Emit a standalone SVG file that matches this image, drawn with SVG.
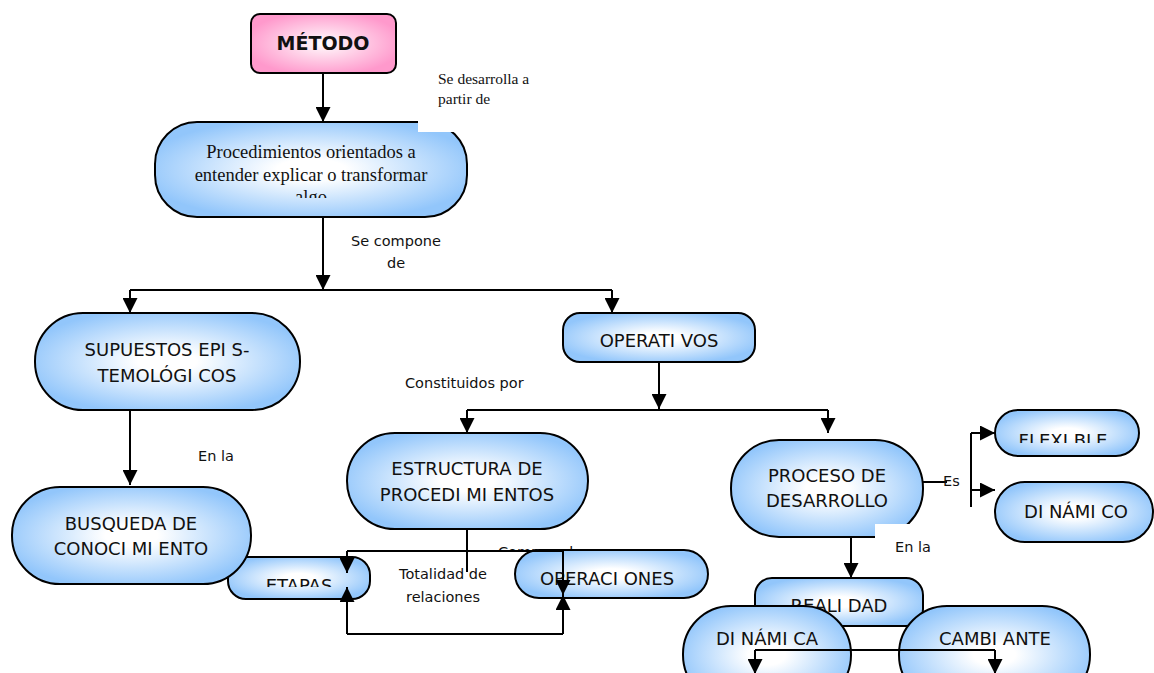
<svg xmlns="http://www.w3.org/2000/svg" width="1154" height="673" viewBox="0 0 1154 673">
<style>
.box{stroke:#000;stroke-width:2;fill:url(#gb)}
.pink{stroke:#000;stroke-width:2;fill:url(#gp)}
.t{font-family:"DejaVu Sans",sans-serif;font-size:18px;fill:#111;text-anchor:middle}
.s{font-family:"DejaVu Sans",sans-serif;font-size:14.5px;fill:#111}
.sr{font-family:"Liberation Serif",serif;fill:#111}
.c{fill:none;stroke:#000;stroke-width:2}
.a{fill:none;stroke:#000;stroke-width:2;marker-end:url(#ah)}
</style>
<defs>
<radialGradient id="gb" cx="50%" cy="50%" r="55%">
<stop offset="0" stop-color="#ffffff"/>
<stop offset="0.2" stop-color="#ffffff"/>
<stop offset="1" stop-color="#92c6fb"/>
</radialGradient>
<radialGradient id="gp" cx="50%" cy="50%" r="55%">
<stop offset="0" stop-color="#ffffff"/>
<stop offset="0.15" stop-color="#ffeef6"/>
<stop offset="1" stop-color="#ff99cc"/>
</radialGradient>
<marker id="ah" viewBox="0 0 10 10" refX="10" refY="5" markerWidth="15" markerHeight="15" markerUnits="userSpaceOnUse" orient="auto">
<path d="M0,0 L10,5 L0,10 z" fill="#000"/>
</marker>
<clipPath id="clAlgo"><rect x="150" y="120" width="320" height="78"/></clipPath>
<clipPath id="clEtapas"><rect x="220" y="550" width="160" height="37"/></clipPath>
<clipPath id="clFlex"><rect x="990" y="400" width="160" height="43"/></clipPath>
<clipPath id="clComp"><rect x="490" y="530" width="100" height="21"/></clipPath>
</defs>
<rect width="1154" height="673" fill="#fff"/>

<g id="label-comprende"><text class="s" x="498" y="557" clip-path="url(#clComp)">Comprende</text></g>

<g id="metodo">
<rect class="pink" x="251" y="14" width="145" height="59" rx="9"/>
<text x="323" y="50" text-anchor="middle" font-family="DejaVu Sans,sans-serif" font-weight="bold" font-size="19" fill="#111">MÉTODO</text>
</g>

<g id="procedimientos">
<rect class="box" x="155" y="122" width="312" height="95" rx="42"/>
<g class="sr" font-size="18.5" text-anchor="middle" clip-path="url(#clAlgo)">
<text x="311" y="158">Procedimientos orientados a</text>
<text x="311" y="181">entender explicar o transformar</text>
<text x="311" y="203">algo</text>
</g>
</g>

<g id="supuestos">
<rect class="box" x="35" y="313" width="265" height="97" rx="48"/>
<text class="t" x="167" y="356">SUPUESTOS EPI S-</text>
<text class="t" x="167" y="382">TEMOLÓGI COS</text>
</g>

<g id="operativos">
<rect class="box" x="563" y="313" width="192" height="49" rx="17"/>
<text class="t" x="659" y="347">OPERATI VOS</text>
</g>

<g id="etapas">
<rect class="box" x="228" y="557" width="142" height="42" rx="18"/>
<text class="t" x="299" y="592" clip-path="url(#clEtapas)">ETAPAS</text>
</g>

<g id="busqueda">
<rect class="box" x="12" y="487" width="239" height="97" rx="48"/>
<text class="t" x="131" y="530">BUSQUEDA DE</text>
<text class="t" x="131" y="555">CONOCI MI ENTO</text>
</g>

<g id="estructura">
<rect class="box" x="347" y="433" width="241" height="96" rx="48"/>
<text class="t" x="467" y="475">ESTRUCTURA DE</text>
<text class="t" x="467" y="501">PROCEDI MI ENTOS</text>
</g>

<g id="operaciones">
<rect class="box" x="515" y="550" width="193" height="48" rx="24"/>
<text class="t" x="607" y="585">OPERACI ONES</text>
</g>

<g id="proceso">
<rect class="box" x="731" y="440" width="192" height="97" rx="48"/>
<text class="t" x="827" y="482">PROCESO DE</text>
<text class="t" x="827" y="507">DESARROLLO</text>
</g>

<g id="flexible">
<rect class="box" x="995" y="410" width="144" height="46" rx="23"/>
<text class="t" x="1063" y="447" clip-path="url(#clFlex)">FLEXI BLE</text>
</g>

<g id="dinamico">
<rect class="box" x="995" y="482" width="158" height="60" rx="30"/>
<text class="t" x="1076" y="518">DI NÁMI CO</text>
</g>

<g id="realidad">
<rect class="box" x="755" y="578" width="168" height="48" rx="17"/>
<text class="t" x="839" y="612">REALI DAD</text>
</g>

<g id="dinamica">
<rect class="box" x="683" y="606" width="168" height="97" rx="48"/>
<text class="t" x="767" y="645">DI NÁMI CA</text>
</g>

<g id="cambiante">
<rect class="box" x="899" y="606" width="191" height="97" rx="48"/>
<text class="t" x="995" y="645">CAMBI ANTE</text>
</g>

<g id="overlays">
<rect x="418" y="120" width="50" height="12" fill="#fff"/>
<rect x="875" y="524" width="50" height="17" fill="#fff"/>
</g>

<g id="connectors">
<path class="a" d="M323,73 V122"/>
<path class="a" d="M323,217 V290"/>
<path class="c" d="M130,290 H612"/>
<path class="a" d="M130,290 V313"/>
<path class="a" d="M612,290 V313"/>
<path class="a" d="M130,410 V485"/>
<path class="a" d="M659,362 V409"/>
<path class="c" d="M467,410 H828"/>
<path class="a" d="M467,410 V433"/>
<path class="a" d="M828,410 V433"/>
<path class="c" d="M467,529 V572"/>
<path class="c" d="M347,551 H563"/>
<path class="a" d="M347,551 V573"/>
<path class="a" d="M563,551 V595"/>
<path class="c" d="M347,634 H563"/>
<path class="a" d="M347,634 V587"/>
<path class="a" d="M563,634 V595"/>
<path class="c" d="M923,482 H947"/>
<path class="c" d="M971,433 V507"/>
<path class="a" d="M971,433 H995"/>
<path class="a" d="M971,490 H995"/>
<path class="a" d="M851,537 V578"/>
<path class="c" d="M755,650 H995"/>
<path class="a" d="M755,650 V674"/>
<path class="a" d="M995,650 V674"/>
</g>

<g id="labels">
<text class="sr" font-size="15.5" x="438" y="84">Se desarrolla a</text>
<text class="sr" font-size="15.5" x="438" y="104">partir de</text>
<text class="s" x="396" y="246" text-anchor="middle">Se compone</text>
<text class="s" x="396" y="268" text-anchor="middle">de</text>
<text class="s" x="405" y="388" font-size="15.5">Constituidos por</text>
<text class="s" x="198" y="461">En la</text>
<text class="s" x="443" y="579" text-anchor="middle">Totalidad de</text>
<text class="s" x="443" y="602" text-anchor="middle">relaciones</text>
<text class="s" x="943" y="486">Es</text>
<text class="s" x="895" y="552">En la</text>
</g>
</svg>
